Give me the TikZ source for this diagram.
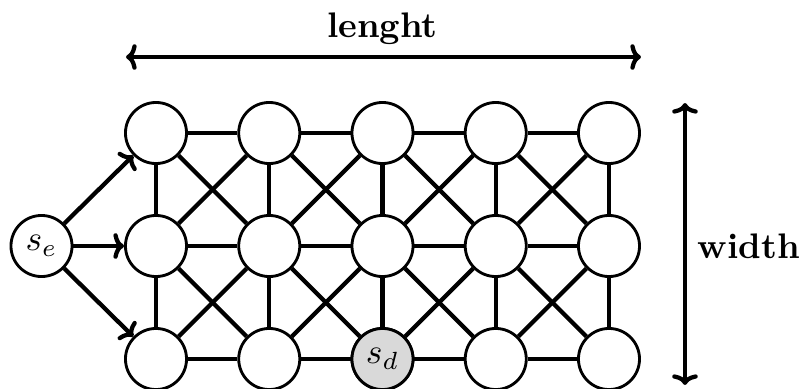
\documentclass[tikz,border=0pt]{standalone}
\usetikzlibrary{arrows.meta}
\begin{document}
\begin{tikzpicture}[x=0.2817pt,y=-0.2817pt,
  >={To[length=3pt,width=7.2pt]},
  vert/.style={circle,draw,line width=0.8pt,minimum size=17.2pt,inner sep=0pt,fill=white},
  edge/.style={line width=1.2pt},
  arr/.style={line width=1.2pt,->},
  dim/.style={line width=1.2pt,<->}]
\useasboundingbox (0,0) rectangle (806,389);
\foreach \i [count=\c] in {0,...,4}{
  \foreach \j [count=\r] in {0,1,2}{
    \coordinate (p\c\r) at ({156+113.25*\i},{133+113*\j});
  }
}
\foreach \c in {1,...,5}{
  \foreach \r in {1,2,3}{
    \node[vert] (n\c\r) at (p\c\r) {};
  }
}
\node[vert,fill=black!15] at (n33) {$s_d$};
\foreach \c [evaluate=\c as \cn using int(\c+1)] in {1,...,4}{
  \foreach \r in {1,2,3}{
    \draw[edge] (n\c\r) -- (n\cn\r);
  }
  \foreach \r [evaluate=\r as \rn using int(\r+1)] in {1,2}{
    \draw[edge] (n\c\r) -- (n\cn\rn);
    \draw[edge] (n\c\rn) -- (n\cn\r);
  }
}
\foreach \c in {1,...,5}{
  \foreach \r [evaluate=\r as \rn using int(\r+1)] in {1,2}{
    \draw[edge] (n\c\r) -- (n\c\rn);
  }
}
\node[vert] (se) at (41.5,246) {$s_e$};
\draw[arr] (se) -- (n11);
\draw[arr] (se) -- (n12);
\draw[arr] (se) -- (n13);
\coordinate (la) at (126,57);
\coordinate (lb) at (641,57);
\draw[dim] (la) -- (lb);
\node[anchor=base] (lt) at (382.5,37) {\textbf{lenght}};
\coordinate (wa) at (685,103);
\coordinate (wb) at (685,385);
\draw[dim] (wa) -- (wb);
\node (wt) at (749,246) {\textbf{width}};
\end{tikzpicture}
\end{document}
